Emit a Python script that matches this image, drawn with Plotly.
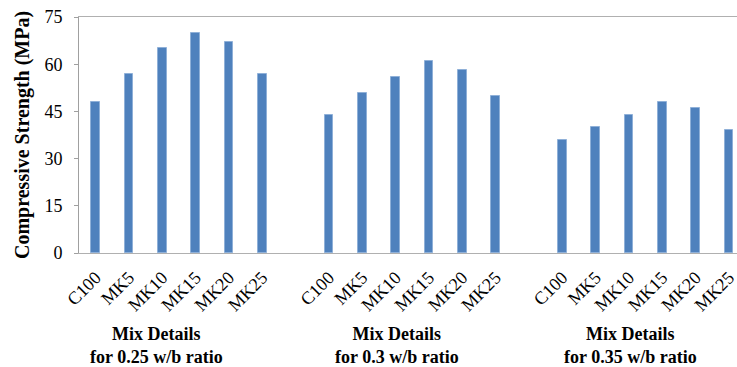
import plotly.graph_objects as go

mixes = ["C100", "MK5", "MK10", "MK15", "MK20", "MK25"]
group_labels = ["Mix Details<br>for 0.25 w/b ratio",
                "Mix Details<br>for 0.3 w/b ratio",
                "Mix Details<br>for 0.35 w/b ratio"]
strength_025 = [48, 57, 65, 70, 67, 57]
strength_030 = [44, 51, 56, 61, 58, 50]
strength_035 = [36, 40, 44, 48, 46, 39]
y_ticks = [0, 15, 30, 45, 60, 75]

series = [strength_025, strength_030, strength_035]
xs, ys, labels = [], [], []
for g, vals in enumerate(series):
    for i, v in enumerate(vals):
        xs.append(g * 7 + i)
        ys.append(v)
        labels.append(mixes[i])

fig = go.Figure()
fig.add_trace(go.Bar(
    x=xs, y=ys, width=0.26,
    marker=dict(color="#4f81bd", line=dict(color="#8fb0d8", width=1)),
    showlegend=False,
))

serif = "Liberation Serif"
fig.update_layout(
    width=737, height=367,
    margin=dict(l=79, r=0, t=17, b=114, autoexpand=False),
    plot_bgcolor="white", paper_bgcolor="white",
    font=dict(family=serif, color="black"),
    bargap=0,
    xaxis=dict(
        range=[-0.5, 19.24], automargin=False,
        tickmode="array", tickvals=xs, ticktext=labels,
        tickangle=-45, tickfont=dict(family=serif, size=18, color="black"),
        showline=True, linecolor="#b0b0b0", linewidth=1, mirror=True,
        showgrid=False, zeroline=False, ticks="",
        ticklabelstandoff=6, ticklabeloverflow="allow",
    ),
    yaxis=dict(
        range=[0, 75], tickmode="array", tickvals=y_ticks, automargin=False,
        tickfont=dict(family=serif, size=18, color="black"),
        showline=True, linecolor="#a0a0a0", linewidth=1,
        ticks="outside", ticklen=4, tickcolor="#a0a0a0",
        showgrid=False, zeroline=False, ticklabelstandoff=8,
    ),
)

fig.add_annotation(
    text="<b>Compressive Strength (MPa)</b>", textangle=-90,
    xref="paper", yref="paper", x=(22 - 79) / 658, y=0.5,
    xanchor="center", yanchor="middle", showarrow=False,
    font=dict(family=serif, size=20, color="black"),
)

group_x = [1.83, 9.03, 16.05]
for gx, gl in zip(group_x, group_labels):
    fig.add_annotation(
        text="<b>" + gl.replace("<br>", "</b><br><b>") + "</b>",
        xref="x", yref="paper", x=gx, y=(253 - 345) / 236,
        xanchor="center", yanchor="middle", showarrow=False,
        font=dict(family=serif, size=18, color="black"),
    )

fig.write_html("out.html", config={"displayModeBar": False},
               post_script="document.body.style.margin='0';document.body.style.padding='0';")
